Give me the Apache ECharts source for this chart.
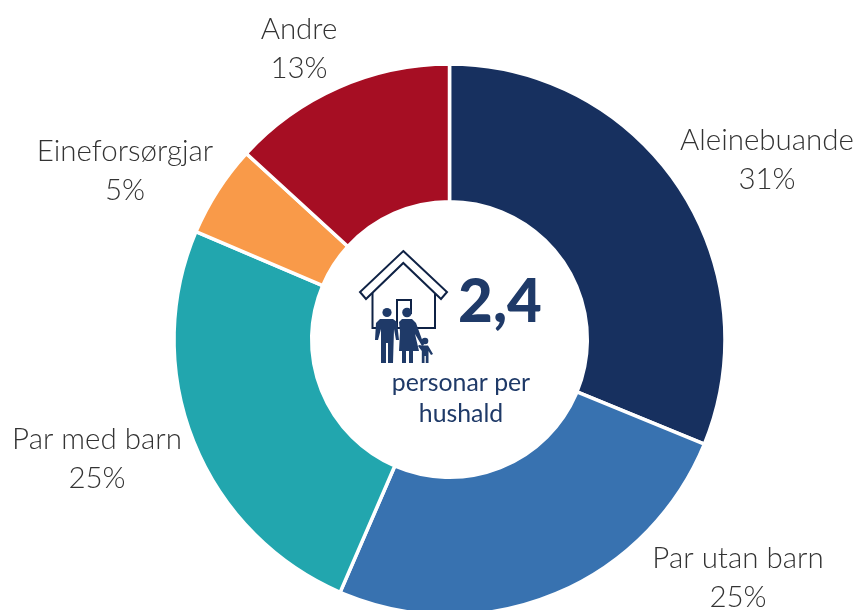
<!DOCTYPE html>
<html><head><meta charset="utf-8">
<style>html,body{margin:0;padding:0;background:#fff}#c{width:859px;height:610px}</style>
<script src="https://cdn.jsdelivr.net/npm/echarts@6/dist/echarts.min.js"></script>
</head><body><div id="c"></div>
<script>
var categories = ['Aleinebuande','Par utan barn','Par med barn','Eineforsørgjar','Andre'];
var values = [31.2,25.3,24.9,5.4,13.2];
var shownLabels = ['31%','25%','25%','5%','13%'];
var colors = ['#17305f','#3872b0','#22a6ae','#f99a49','#a60e23'];
var labelCentres = [[767,160],[738,578],[97,459],[125,171],[299,49]];
var centreValue = '2,4';
var centreLines = 'personar per\nhushald';
var ink = '#1f3a68', houseInk = '#0f2245';
var chart = echarts.init(document.getElementById('c'));
function poly(points, closed, style){
  return {type: closed ? 'polygon':'polyline', shape:{points:points}, style:style};
}
var houseStyle = {fill:null, stroke:houseInk, lineWidth:2};
var fillStyle = {fill:ink};
function person(cx, head, r, pts){
  return [{type:'circle',shape:{cx:cx,cy:head,r:r},style:fillStyle}, poly(pts,true,fillStyle)];
}
var graphics = [
  poly([[403.3,251],[447,292],[441,299],[403.3,263],[366,299],[360,292]],true,{fill:'#fff',stroke:houseInk,lineWidth:2}),
  poly([[372.5,293],[372.5,328],[435,328],[435,293]],false,houseStyle),
  poly([[397,328],[397,300],[411,300],[411,314]],false,houseStyle)
].concat(
  person(387,312.5,4.6,[[380,319],[393,319],[397,322],[399,340],[396,340],[394,329],[393,363],[388,363],[388,343],[386,343],[386,363],[381,363],[381,329],[378,340],[375,340],[376,323]]),
  person(407,312.5,4.8,[[402,319],[412,319],[416,323],[424,345],[422,346],[415,334],[419,351],[413,351],[413,363],[409,363],[409,351],[406,351],[406,363],[402,363],[402,351],[399,351],[400,332],[399,322]]),
  person(425,341,3.3,[[422,345.5],[428,345.5],[433,354],[431,355],[428.5,351],[428.5,363],[425.8,363],[425.8,356],[424.5,356],[424.5,363],[421.8,363],[421.8,351],[418,346],[419,345]])
).concat([
  {type:'text',style:{x:500,y:303,text:centreValue,align:'center',verticalAlign:'middle',fill:ink,font:'900 60px Lato'}},
  {type:'text',style:{x:461,y:399,text:centreLines,align:'center',verticalAlign:'middle',fill:ink,font:'24.8px Lato',lineHeight:31}}
]);
chart.setOption({
  animation:false,
  graphic:graphics,
  series:[{
    type:'pie',
    center:[449.5,339.5],
    radius:[137.8,275.5],
    startAngle:90,
    clockwise:true,
    color:colors,
    itemStyle:{borderColor:'#fff',borderWidth:3.5},
    data:categories.map(function(n,i){return {name:n,value:values[i]};}),
    label:{
      show:true,position:'outside',align:'center',verticalAlign:'middle',
      width:260,overflow:'none',
      formatter:function(p){return p.name+'\n'+shownLabels[p.dataIndex];},
      color:'#333',fontFamily:'Lato',fontWeight:300,fontSize:29.5,lineHeight:39
    },
    labelLine:{show:false},
    labelLayout:function(p){
      return {x:labelCentres[p.dataIndex][0],y:labelCentres[p.dataIndex][1],align:'center',verticalAlign:'middle',hideOverlap:false};
    }
  }]
});
</script></body></html>
